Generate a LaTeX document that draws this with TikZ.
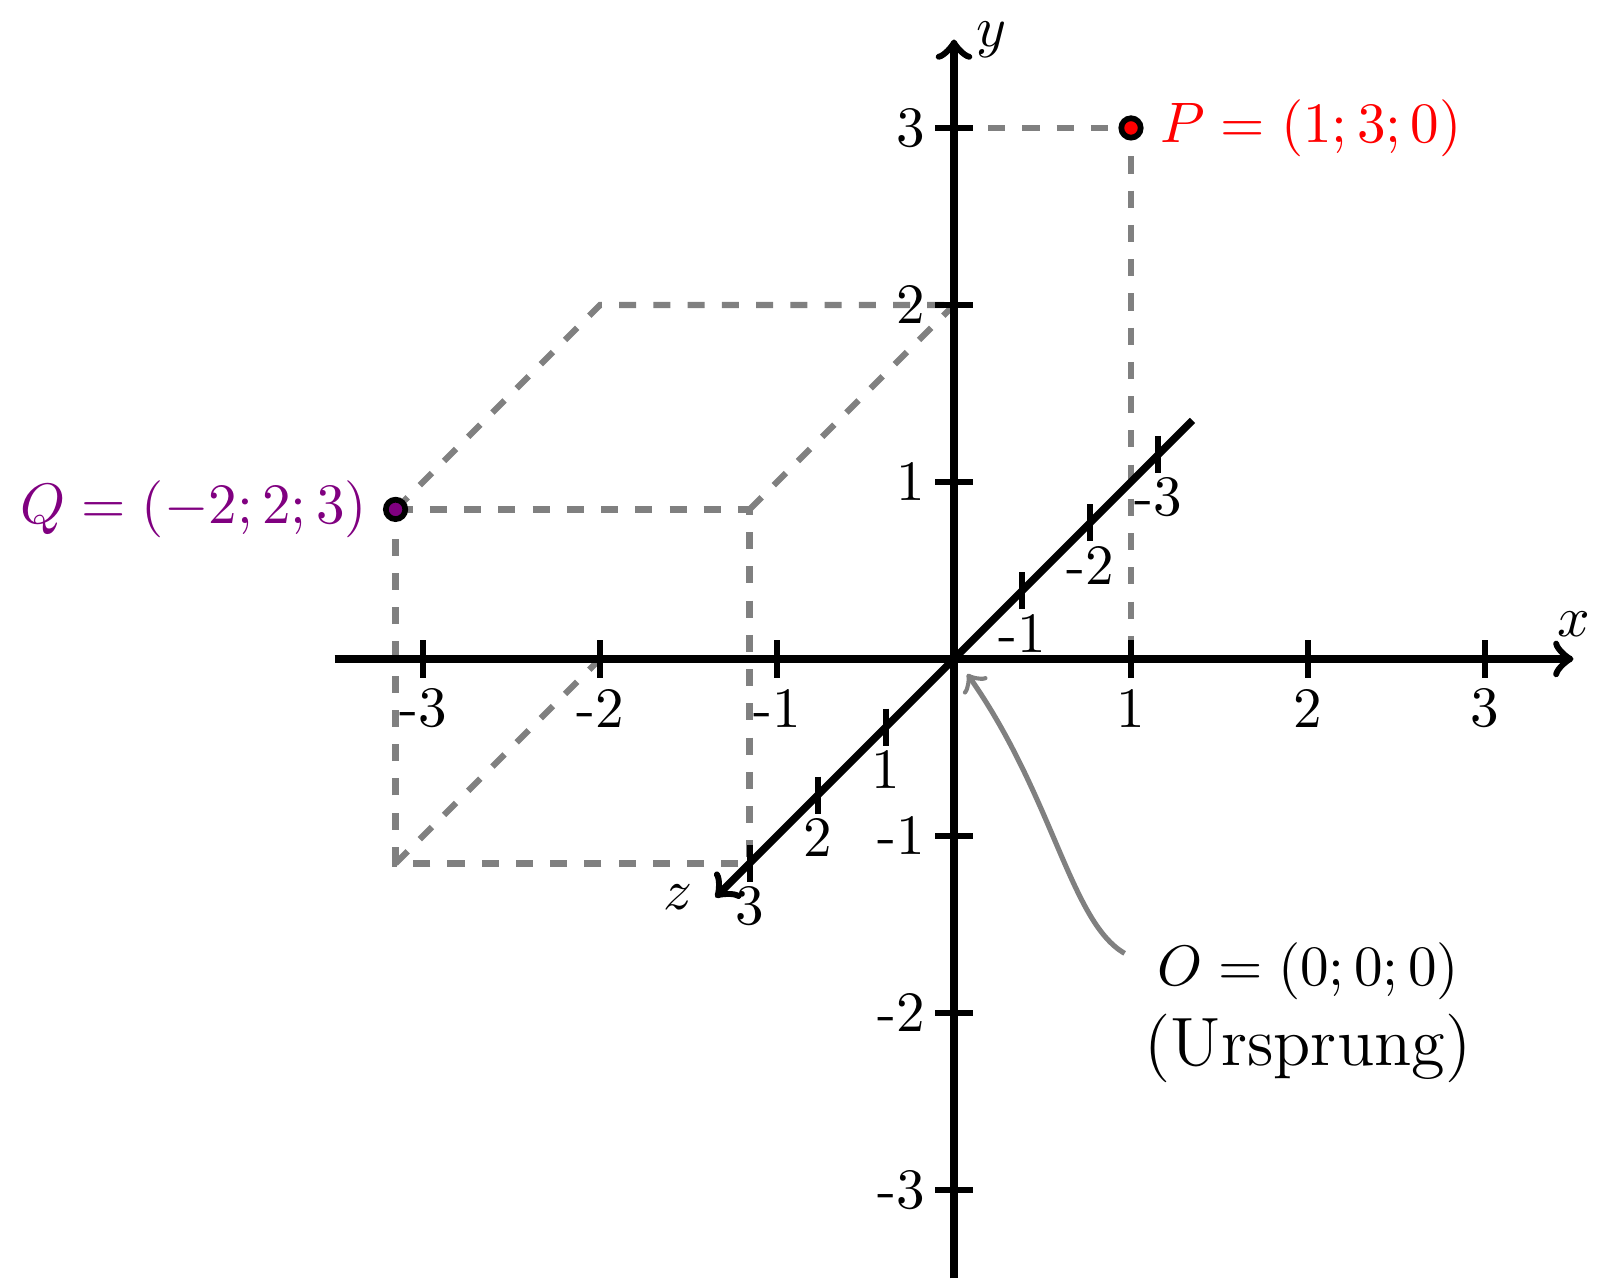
\documentclass[tikz,border=0pt]{standalone}
\usetikzlibrary{calc}
\begin{document}
\begin{tikzpicture}[
  x={(1.09cm,0cm)}, y={(0cm,1.09cm)}, z={(-0.4197cm,-0.4197cm)},
  axisline/.style={line width=1.3pt, ->},
  tickline/.style={line width=1.05pt},
  helper/.style={gray, line width=1.1pt, dashed},
  numlabel/.style={inner sep=0pt},
  pointdot/.style={circle, draw=black, line width=1pt, inner sep=0pt, minimum size=3.4pt},
  pointer/.style={gray, line width=0.9pt, ->},
]
\useasboundingbox (-5.39,-3.52) rectangle (3.729,3.723);

% corner points
\coordinate (Py) at (0,3);
\coordinate (Pp) at (1,3);
\coordinate (Px) at (1,0);
\coordinate (Qa) at (-2,2,3);
\coordinate (Qb) at (0,2,3);
\coordinate (Qc) at (0,0,3);
\coordinate (Qd) at (-2,0,3);
\coordinate (Qe) at (-2,2,0);
\coordinate (Qf) at (0,2,0);
\coordinate (Qg) at (-2,0,0);

% helper lines
\draw[helper] (Py) -- (Pp) -- (Px);
\draw[helper] (Qa) -- (Qb) -- (Qc) -- (Qd) -- cycle;
\draw[helper] (Qa) -- (Qe) -- (Qf);
\draw[helper] (Qb) -- (Qf);
\draw[helper] (Qd) -- (Qg);

% axes
\coordinate (xs) at (-3.5,0);
\coordinate (xe) at (3.5,0);
\coordinate (ys) at (0,-3.5);
\coordinate (ye) at (0,3.5);
\coordinate (zs) at (0,0,-3.5);
\coordinate (ze) at (0,0,3.5);
\draw[axisline] (xs) -- (xe) node[above] (xlab) {$x$};
\draw[axisline] (ys) -- (ye) node[right] (ylab) {$y$};
\draw[axisline] (zs) -- (ze) node[left] (zlab) {$z$};

% ticks
\foreach \i in {-3,-2,-1,1,2,3} {
  \draw[tickline] (\i,0.107) -- (\i,-0.107);
  \node[numlabel] (xl\i) at (\i,-0.28) {\i};
  \draw[tickline] (0.107,\i) -- (-0.107,\i);
  \node[numlabel, anchor=east] (yl\i) at (-0.16,\i) {\i};
  \draw[tickline] ($(0,0,\i)+(0,0.105)$) -- ($(0,0,\i)+(0,-0.105)$);
  \node[numlabel] (zl\i) at ($(0,0,\i)+(0,-0.24)$) {\i};
}

% points
\node[pointdot, fill=red] (P) at (Pp) {};
\node[pointdot, fill=violet] (Q) at (Qa) {};
\node[red, anchor=west, inner sep=0pt] (Plab) at (1.16,3) {$P=(1;3;0)$};
\node[violet, anchor=east, inner sep=0pt] (Qlab) at (-3.31,0.845) {$Q=(-2;2;3)$};

% origin label
\node[align=center, font=\large] (Olab) at (2,-2) {{\normalsize$O=(0;0;0)$}\\(Ursprung)};
\coordinate (otip) at (0.075,-0.085);
\draw[pointer] (Olab.162) to[out=150, in=-55, out looseness=0.5, in looseness=1.2] (otip);
\end{tikzpicture}
\end{document}
